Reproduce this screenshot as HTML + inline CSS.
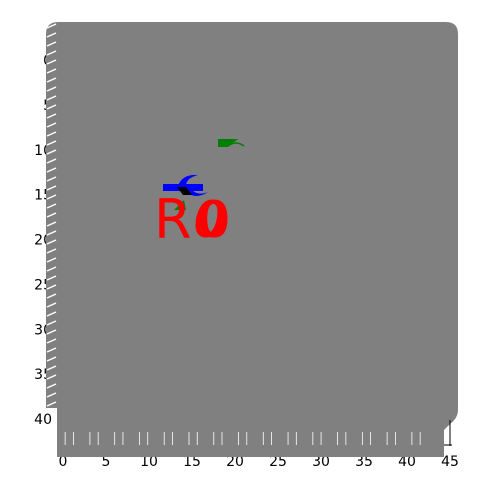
<!DOCTYPE html>
<html><head><meta charset="utf-8"><style>
html,body{margin:0;padding:0;background:#fff;width:500px;height:500px;overflow:hidden}
svg{display:block;font-family:"DejaVu Sans","Liberation Sans",sans-serif}
</style></head><body>
<svg id="chart" width="500" height="500" viewBox="0 0 500 500">
<g id="xl"></g>
<g id="yt"></g>
<g id="bg">
<path d="M58,22 H446 Q458,22 458,34 V410 Q458,418 450,424 L444,430 V457 H57 V408 H46 V34 Q46,22 58,22 Z" fill="#808080"/>
</g>
<g id="hatch"></g>
<g id="xt"></g>
<g>
<polygon points="218,139 238,139 228,147 218,147" fill="#008000"/>
<path d="M228,146 Q236,140 244,146" stroke="#008000" stroke-width="1.5" fill="none"/>
<rect x="163" y="184" width="40" height="7" fill="#0000ff"/>
<path d="M178,186 Q182,174 198,175 Q186,178 186,186 Z" fill="#0000ff"/>
<path d="M186,192 Q196,200 208,192 Q198,196 192,190 Z" fill="#0000ff"/>
<polygon points="177,187 186,187 192,195 183,195" fill="#000"/>
<polygon points="174,210 184,200 186,210" fill="#008000"/>
<text x="154" y="238" font-size="54" fill="#ff0000" font-family="DejaVu Sans,sans-serif">R</text>
<text x="193" y="237" font-size="50" fill="#ff0000" font-family="DejaVu Sans,sans-serif" font-style="italic">0</text>
<text x="196" y="237" font-size="50" fill="#ff0000" font-family="DejaVu Sans,sans-serif">0</text>
<text x="199" y="237" font-size="50" fill="#ff0000" font-family="DejaVu Sans,sans-serif">0</text>
</g>
</svg>
<script>
const xTicks=[0,5,10,15,20,25,30,35,40,45];
const yTicks=[0,5,10,15,20,25,30,35,40];
const NS="http://www.w3.org/2000/svg";
const xs=v=>63+v*(450-63)/45;
const ys=v=>60+v*(419-60)/40;
function mk(t,a,p){const e=document.createElementNS(NS,t);for(const k in a)e.setAttribute(k,a[k]);p.appendChild(e);return e;}
const hatch=document.getElementById('hatch');
for(let y=24;y<404;y+=9){const l=mk('line',{x1:47,y1:y+4,x2:56,y2:y,stroke:'#fff','stroke-width':1.5},hatch);

}
const xt=document.getElementById('xt');
mk('line',{x1:450,y1:420,x2:450,y2:446,stroke:'#000'},xt);
mk('line',{x1:444,y1:445,x2:452,y2:445,stroke:'#000'},xt);
for(let i=0;i<45;i++){if(i%3===2)continue;const x=xs(i*0.96+0.25);
const l=mk('line',{x1:x,y1:432,x2:x,y2:445,stroke:'#fff','stroke-width':0.8},xt);

}
const xl=document.getElementById('xl');
for(let i=0;i<xTicks.length;i++){const v=xTicks[i];const x=xs(v);
const t=mk('text',{x:x,y:466,'text-anchor':'middle','font-size':14,fill:'#000'},xl);t.textContent=v;

}
const yt=document.getElementById('yt');
for(const v of yTicks){const t=mk('text',{x:52,y:ys(v)+5,'text-anchor':'end','font-size':14,fill:'#000'},yt);t.textContent=v;

}
</script>
</body></html>
